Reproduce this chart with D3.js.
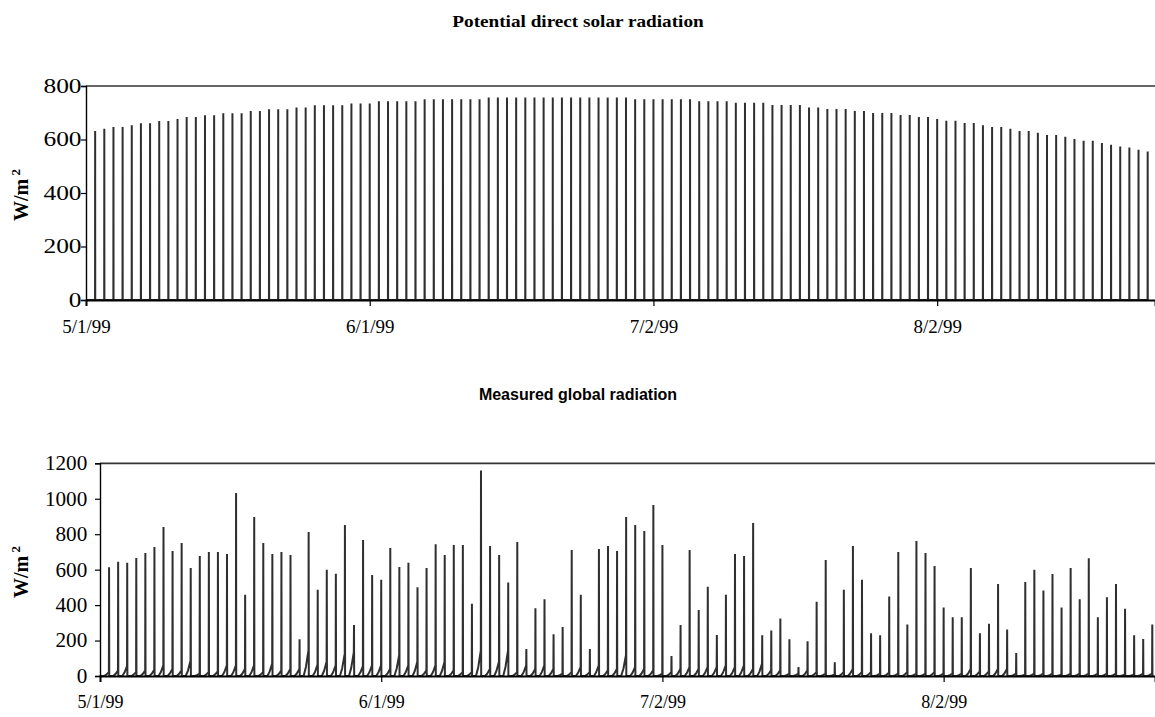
<!DOCTYPE html>
<html>
<head>
<meta charset="utf-8">
<script src="https://cdn.jsdelivr.net/npm/d3@7"></script>
<style>
  html, body { margin: 0; padding: 0; background: #fff; }
  svg { display: block; }
</style>
</head>
<body>
<svg id="chart" width="1155" height="717"></svg>
<script>
// Daily peak of potential direct solar radiation (W/m2), one value per day from 5/2/99
const potentialPeak = [
  632,640,647,647,653,661,661,669,669,677,
  684,684,691,691,698,698,698,707,707,713,
  713,713,720,720,728,728,728,728,735,735,
  735,743,743,743,743,743,750,750,750,750,
  750,750,750,757,757,757,757,757,757,757,
  757,757,757,757,757,757,757,757,757,750,
  750,750,750,750,750,750,743,743,743,743,
  737,737,737,737,729,729,729,729,720,720,
  714,714,714,707,707,699,699,699,692,692,
  684,684,677,670,670,662,662,653,647,647,
  640,632,632,625,617,617,610,602,595,595,
  587,580,574,570,562,555
];

// Daily peak of measured global radiation (W/m2)
const measuredPeak = [
  613,645,639,666,694,728,841,705,750,609,
  677,700,700,688,1032,459,897,750,688,700,
  683,207,812,487,600,577,852,288,767,570,
  543,722,615,639,500,609,743,683,739,739,
  408,1160,733,683,527,756,152,382,433,235,
  276,711,459,152,716,733,705,897,852,818,
  965,739,113,288,711,372,504,231,459,688,
  677,863,230,256,325,207,51,196,419,654,
  77,487,733,543,241,230,448,700,291,762,
  694,621,386,331,331,609,241,295,519,263,
  130,530,600,483,575,387,609,433,664,331,
  444,519,380,230,209,291
];

// Morning values of measured global radiation just before each daily peak (W/m2)
const measuredMorning = [
  22,30,56,22,30,35,60,40,30,88,
  13,22,26,60,60,40,60,22,70,30,
  40,40,145,64,80,60,126,135,56,60,
  60,40,117,60,80,32,60,80,32,22,
  22,145,40,80,145,22,60,40,60,40,
  13,22,50,22,60,32,40,117,50,40,
  32,13,22,40,50,40,50,50,60,50,
  60,40,70,32,32,13,13,32,22,13,
  8,22,40,22,22,13,20,13,22,13,
  13,22,13,13,13,40,26,26,40,40,
  13,8,13,13,13,8,13,13,13,13,
  13,13,8,8,13,13
];

// Axis labels
const xTickLabels = ["5/1/99", "6/1/99", "7/2/99", "8/2/99"];
const potentialTicks = [0, 200, 400, 600, 800];
const measuredTicks = [0, 200, 400, 600, 800, 1000, 1200];

const DAY = 864e5;
const START = Date.UTC(1999, 4, 1);
const parseTick = d3.utcParse("%m/%d/%y");
const tickDates = xTickLabels.map(parseTick);
const fmtTick = d3.utcFormat("%-m/%-d/%y");

// Radiation traces: flat night, morning rise, sharp midday peak, drop back
function potentialTrace(peaks) {
  const pts = [{t: 0, v: 0}];
  peaks.forEach((p, i) => {
    const d = i + 1;
    pts.push({t: d - 0.01, v: 0});
    pts.push({t: d, v: p});
    pts.push({t: d + 0.01, v: 0});
  });
  return pts;
}
function measuredTrace(peaks, morning) {
  const pts = [{t: 0, v: 0}];
  peaks.forEach((p, i) => {
    const d = i + 1, m = morning[i];
    pts.push({t: d - 0.55, v: 0});
    pts.push({t: d - 0.3, v: m * 0.35});
    pts.push({t: d - 0.02, v: m});
    pts.push({t: d, v: p});
    pts.push({t: d + 0.02, v: 0});
  });
  return pts;
}

const svg = d3.select("#chart");
const serif = "'Liberation Serif', 'Times New Roman', serif";
const sans = "'Liberation Sans', Arial, sans-serif";

function panel(cfg) {
  const g = svg.append("g");
  const x = d3.scaleUtc()
    .domain([new Date(START), new Date(START + cfg.days * DAY)])
    .range([cfg.left, cfg.right]);
  const y = d3.scaleLinear().domain([0, cfg.ymax]).range([cfg.bottom, cfg.top]);

  // title
  g.append("text")
    .attr("transform", `translate(578,${cfg.titleY}) scale(${cfg.titleStretch},1)`)
    .attr("text-anchor", "middle")
    .attr("font-family", cfg.titleFont)
    .attr("font-weight", "bold")
    .attr("font-size", cfg.titleSize)
    .text(cfg.title);

  // plot frame top edge
  g.append("line")
    .attr("x1", cfg.left).attr("x2", cfg.right)
    .attr("y1", cfg.top).attr("y2", cfg.top)
    .attr("stroke", "#333").attr("stroke-width", 1.7);

  // series
  const line = d3.line()
    .x(d => x(new Date(START + d.t * DAY)))
    .y(d => y(d.v));
  g.append("path")
    .datum(cfg.trace)
    .attr("fill", "none")
    .attr("stroke", "#2f2f2f")
    .attr("stroke-width", 2)
    .attr("stroke-linejoin", "miter")
    .attr("stroke-miterlimit", 1)
    .attr("d", line);

  // y axis
  const yAxis = g.append("g")
    .attr("transform", `translate(${cfg.left},0)`)
    .call(d3.axisLeft(y).tickValues(cfg.yTicks).tickSize(5).tickPadding(cfg.yPad).tickFormat(d3.format("d")));
  yAxis.select(".domain").attr("stroke", "#000").attr("stroke-width", 1.4);
  yAxis.selectAll(".tick line").attr("stroke", "#000").attr("stroke-width", 1.2);
  yAxis.selectAll("text")
    .attr("font-family", serif).attr("font-size", 20).attr("fill", "#000")
    .attr("transform", `scale(${cfg.yStretch},1)`);

  // x axis
  const xAxis = g.append("g")
    .attr("transform", `translate(0,${cfg.bottom})`)
    .call(d3.axisBottom(x).tickValues(tickDates).tickSize(6).tickPadding(cfg.xPad).tickFormat(fmtTick));
  xAxis.select(".domain").attr("stroke", "#000").attr("stroke-width", 1.9);
  xAxis.selectAll(".tick line").attr("stroke", "#000").attr("stroke-width", 1.2);
  xAxis.selectAll("text")
    .attr("font-family", serif).attr("font-size", cfg.xSize).attr("fill", "#000");

  // y axis title
  const yt = g.append("text")
    .attr("transform", `translate(${cfg.ylabX},${cfg.ylabY}) rotate(-90)`)
    .attr("text-anchor", "middle")
    .attr("font-family", serif)
    .attr("font-weight", "bold")
    .attr("font-size", 20);
  yt.append("tspan").text("W/m");
  yt.append("tspan").attr("dy", -8).attr("font-size", 13).text(" 2");
}

panel({
  title: "Potential direct solar radiation", titleFont: serif, titleSize: 16, titleStretch: 1.2, titleY: 27,
  left: 86, right: 1155, top: 86, bottom: 300, days: 116.8, ymax: 800,
  yTicks: potentialTicks, yPad: -1.5, yStretch: 1.27, xPad: 14, xSize: 19, ylabX: 28, ylabY: 195,
  trace: potentialTrace(potentialPeak)
});

panel({
  title: "Measured global radiation", titleFont: sans, titleSize: 16, titleStretch: 1.0, titleY: 400,
  left: 100, right: 1155, top: 463.3, bottom: 676, days: 116.3, ymax: 1200,
  yTicks: measuredTicks, yPad: 7, yStretch: 1.06, xPad: 13, xSize: 18, ylabX: 28, ylabY: 572,
  trace: measuredTrace(measuredPeak, measuredMorning)
});
</script>
</body>
</html>
